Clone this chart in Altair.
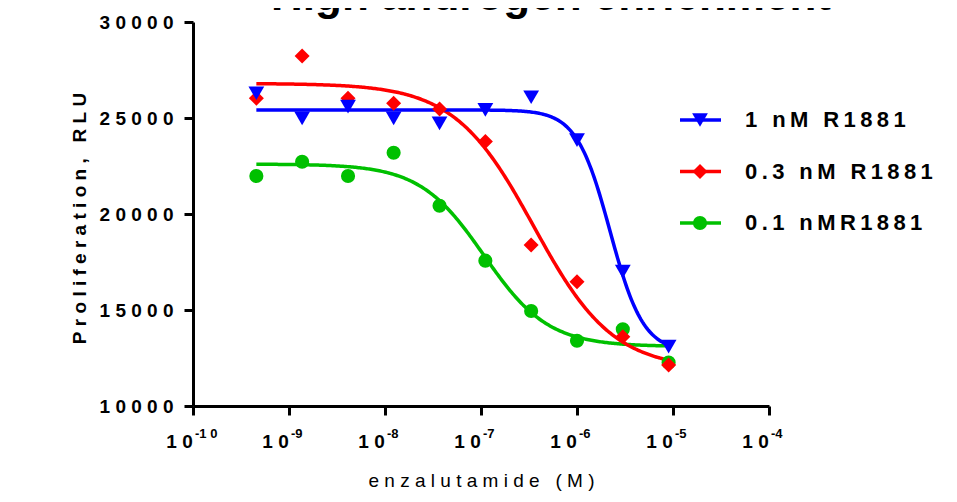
import altair as alt
import numpy as np
import pandas as pd

# ---------------- data ----------------
title_text = "High androgen enrichment"
series_names = ["1 nM R1881", "0.3 nM R1881", "0.1 nMR1881"]
series_colors = ["#0000FF", "#FF0000", "#00C000"]
series_shapes = ["triangle-down", "diamond", "circle"]

conc_M = [4.57e-10, 1.37e-9, 4.12e-9, 1.23e-8, 3.70e-8, 1.11e-7, 3.33e-7, 1.0e-6, 3.0e-6, 9.0e-6]
rlu_1nM = [26290, 24980, 25590, 24980, 24720, 25420, 26080, 23850, 17000, 13090]
rlu_03nM = [26030, 28230, 26030, 25770, 25470, 23770, 18390, 16470, 13610, 12140]
rlu_01nM = [21980, 22720, 21980, 23190, 20430, 17570, 14950, 13400, 14000, 12260]

# four-parameter logistic fits (top, bottom, logEC50, Hill)
fit_top = [25420, 26800, 22600]
fit_bottom = [12800, 11900, 13100]
fit_logec50 = [-5.656, -6.45, -6.97]
fit_hill = [2.5, 1.05, 1.3]

x_ticks = [1e-10, 1e-9, 1e-8, 1e-7, 1e-6, 1e-5, 1e-4]
x_tick_base = "10"
x_tick_exponents = ["-10", "-9", "-8", "-7", "-6", "-5", "-4"]
y_ticks = [10000, 15000, 20000, 25000, 30000]
x_title = "enzalutamide (M)"
y_title = "Proliferation, RLU"

NB = "\u00a0"   # no-break space
TS = "\u2009"   # thin space


def spaced(s, sep=NB):
    return sep.join(ch if ch != " " else NB for ch in s)


FONT = "Liberation Sans"

# ---------------- tables ----------------
values_by_series = [rlu_1nM, rlu_03nM, rlu_01nM]
pts_rows = []
curve_rows = []
for i in [2, 1, 0]:
    name = series_names[i]
    for c, v in zip(conc_M, values_by_series[i]):
        pts_rows.append({"conc": c, "value": v, "series": name})
    lx = np.linspace(np.log10(conc_M[0]), np.log10(conc_M[-1]), 300)
    yy = fit_bottom[i] + (fit_top[i] - fit_bottom[i]) / (1 + 10 ** ((lx - fit_logec50[i]) * fit_hill[i]))
    for a, b in zip(lx, yy):
        curve_rows.append({"conc": 10 ** a, "value": b, "series": name})
pts = pd.DataFrame(pts_rows)
curve = pd.DataFrame(curve_rows)

leg = pd.DataFrame({
    "series": series_names,
    "row": list(range(len(series_names))),
    "label": [spaced(s, TS) for s in series_names],
})
exp_df = pd.DataFrame({
    "tick": x_ticks,
    "exp": [e if len(e) <= 2 else e[:2] + NB + e[2:] for e in x_tick_exponents],
})

color_scale = alt.Scale(domain=series_names, range=series_colors)
shape_scale = alt.Scale(domain=series_names, range=series_shapes)
size_scale = alt.Scale(domain=series_names, range=[250, 200, 420])

y_label_expr = " : ".join(
    f"datum.value == {v} ? '{spaced(str(v))}'" for v in y_ticks
) + " : ''"

AX = dict(
    domain=True, domainColor="black", domainWidth=3,
    ticks=True, tickColor="black", tickWidth=3, tickSize=9,
    grid=False,
    labelFont=FONT, labelFontSize=19, labelFontWeight="bold", labelColor="black",
    titleFont=FONT, titleFontSize=19, titleColor="black",
)

x_enc = alt.X(
    "conc:Q",
    scale=alt.Scale(type="log", domain=[x_ticks[0], x_ticks[-1]], nice=False),
    axis=alt.Axis(
        values=x_ticks,
        labelExpr=f"'{spaced(x_tick_base)}'",
        labelFlush=False, labelOverlap=False,
        labelOffset=-14, labelPadding=17, labelBaseline="top",
        title=spaced(x_title), titleFontWeight="normal",
        titleX=288, titleY=80, titleBaseline="alphabetic", titleAlign="center",
        **AX,
    ),
)
y_enc = alt.Y(
    "value:Q",
    scale=alt.Scale(domain=[y_ticks[0], y_ticks[-1]], nice=False, zero=False),
    axis=alt.Axis(
        values=y_ticks,
        labelExpr=y_label_expr,
        labelPadding=11, labelOverlap=False, labelFlush=False,
        title=spaced(y_title), titleFontWeight="bold",
        titleAngle=270, titleX=-108, titleY=196, titleBaseline="alphabetic",
        titleAlign="center",
        **AX,
    ),
)

lines = alt.Chart(curve).mark_line(strokeWidth=3.5).encode(
    x=x_enc, y=y_enc,
    color=alt.Color("series:N", scale=color_scale, legend=None),
    detail="series:N",
)
points = alt.Chart(pts).mark_point(filled=True, opacity=1, strokeWidth=0).encode(
    x=alt.X("conc:Q"), y=alt.Y("value:Q"),
    color=alt.Color("series:N", scale=color_scale, legend=None),
    shape=alt.Shape("series:N", scale=shape_scale, legend=None),
    size=alt.Size("series:N", scale=size_scale, legend=None),
)
exps = alt.Chart(exp_df).mark_text(
    align="left", baseline="alphabetic", font=FONT, fontSize=13, fontWeight="bold", color="black", dx=2
).encode(
    x=alt.X("tick:Q"),
    y=alt.value(416),
    text="exp:N",
)
title_mark = alt.Chart(pd.DataFrame({"t": [title_text]})).mark_text(
    align="center", baseline="alphabetic", font=FONT, fontSize=44, fontWeight="bold", color="black"
).encode(x=alt.value(358), y=alt.value(-12), text="t:N")

# legend drawn by hand: one row per series
legend_row_y = [98, 149.5, 201]
legend_layers = []
for k, ry in enumerate(legend_row_y):
    base = alt.Chart(leg).transform_filter(alt.datum.row == k)
    legend_layers.append(base.mark_rule(strokeWidth=3.5).encode(
        x=alt.value(487), x2=alt.value(528), y=alt.value(ry),
        color=alt.Color("series:N", scale=color_scale, legend=None),
    ))
    legend_layers.append(base.mark_point(filled=True, opacity=1, strokeWidth=0).encode(
        x=alt.value(507), y=alt.value(ry),
        color=alt.Color("series:N", scale=color_scale, legend=None),
        shape=alt.Shape("series:N", scale=shape_scale, legend=None),
        size=alt.Size("series:N", scale=size_scale, legend=None),
    ))
    legend_layers.append(base.mark_text(
        align="left", baseline="middle", font=FONT, fontSize=22, fontWeight="bold", color="black"
    ).encode(x=alt.value(552), y=alt.value(ry), text="label:N"))

chart = alt.layer(lines, points, exps, title_mark, *legend_layers).properties(
    width=576, height=384,
    background="white",
    autosize=alt.AutoSizeParams(type="none"),
    padding={"left": 185, "top": 14, "right": 180, "bottom": 88},
).configure_view(strokeWidth=0).configure_axis(**AX)

chart.save("out.html", embed_options={"renderer": "svg", "actions": False})
